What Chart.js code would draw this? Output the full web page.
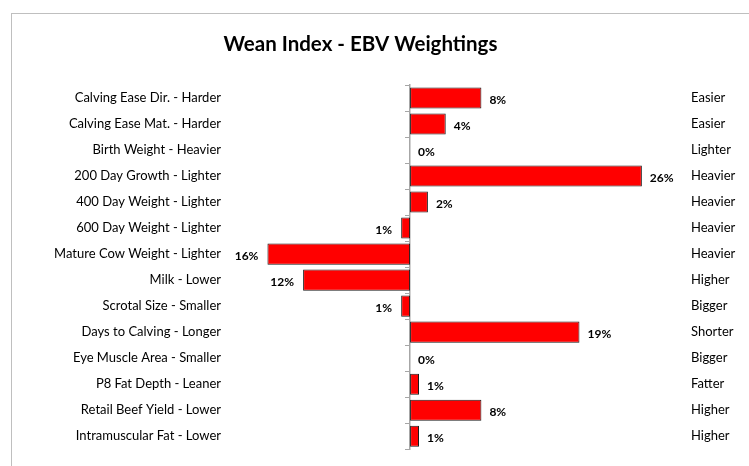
<!DOCTYPE html>
<html>
<head>
<meta charset="utf-8">
<title>Wean Index - EBV Weightings</title>
<script src="https://cdn.jsdelivr.net/npm/chart.js@4.4.1/dist/chart.umd.min.js"></script>
<style>
  body { margin: 0; background: #fff; }
  #wrap { position: relative; width: 749px; height: 466px; overflow: hidden; }
  #frame { position: absolute; left: 11px; top: 13px; width: 800px; height: 500px;
           border-left: 1.5px solid #bfbfbf; border-top: 1.5px solid #bfbfbf; }
  canvas { position: absolute; left: 0; top: 0; }
</style>
</head>
<body>
<div id="wrap"><div id="frame"></div><canvas id="grafico" width="749" height="466"></canvas></div>
<script>
// traits (left side = direction of a lower score), right side = favourable direction
var traits = [
  'Calving Ease Dir. - Harder',
  'Calving Ease Mat. - Harder',
  'Birth Weight - Heavier',
  '200 Day Growth - Lighter',
  '400 Day Weight - Lighter',
  '600 Day Weight - Lighter',
  'Mature Cow Weight - Lighter',
  'Milk - Lower',
  'Scrotal Size - Smaller',
  'Days to Calving - Longer',
  'Eye Muscle Area - Smaller',
  'P8 Fat Depth - Leaner',
  'Retail Beef Yield - Lower',
  'Intramuscular Fat - Lower'
];
var opposite = [
  'Easier', 'Easier', 'Lighter', 'Heavier', 'Heavier', 'Heavier', 'Heavier',
  'Higher', 'Bigger', 'Shorter', 'Bigger', 'Fatter', 'Higher', 'Higher'
];
// weighting in %, negative = bar to the left
var weights = [8, 4, 0, 26, 2, -1, -16, -12, -1, 19, 0, 1, 8, 1];

var fuente = 'Lato, "Open Sans", sans-serif';

// percent labels at the end of each bar
var valueLabels = {
  id: 'valueLabels',
  afterDatasetsDraw: function (chart) {
    var ctx = chart.ctx;
    var meta = chart.getDatasetMeta(0);
    ctx.save();
    ctx.font = 'bold 12px ' + fuente;
    ctx.fillStyle = '#000';
    ctx.textBaseline = 'middle';
    meta.data.forEach(function (bar, i) {
      var v = weights[i];
      var txt = Math.abs(v) + '%';
      if (v < 0) {
        ctx.textAlign = 'right';
        ctx.fillText(txt, bar.x - 9, bar.y + 2);
      } else {
        ctx.textAlign = 'left';
        ctx.fillText(txt, bar.x + 8, bar.y + 2);
      }
    });
    ctx.restore();
  }
};

var ctx = document.getElementById('grafico');

new Chart(ctx, {
  type: 'bar',
  plugins: [valueLabels],
  data: {
    labels: traits,
    datasets: [{
      data: weights,
      xAxisID: 'x',
      yAxisID: 'y',
      backgroundColor: '#ff0000',
      borderColor: '#1a1a1a',
      borderWidth: 1,
      borderSkipped: false,
      barPercentage: 0.81,
      categoryPercentage: 1
    }]
  },
  options: {
    indexAxis: 'y',
    responsive: false,
    animation: false,
    layout: { padding: { left: 11, right: 39, top: 0, bottom: 10 } },
    plugins: {
      legend: { display: false },
      tooltip: { enabled: false },
      title: {
        display: true,
        text: 'Wean Index - EBV Weightings',
        color: '#000',
        font: { family: fuente, size: 20.5, weight: 'bold' },
        padding: { top: 31.7, bottom: 28.7 }
      }
    },
    scales: {
      x: { display: false, min: -20.2, max: 30.95 },
      y: {
        position: 'left',
        grid: { display: false, drawTicks: false },
        border: { display: false },
        ticks: { color: '#000', font: { family: fuente, size: 13 }, padding: 9 },
        afterFit: function (s) { s.width = 219; }
      },
      yR: {
        type: 'category',
        axis: 'y',
        labels: opposite,
        position: 'right',
        offset: true,
        grid: { display: false, drawTicks: false },
        border: { display: false },
        ticks: { color: '#000', font: { family: fuente, size: 13 }, padding: 5 },
        afterFit: function (s) {
          s.width = 24;
          s._computeLabelArea = function () {}; // let the labels run past the padding
        }
      },
      yC: {
        type: 'category',
        axis: 'y',
        position: { x: 0 },
        offset: true,
        z: 1,
        ticks: { display: false },
        grid: { offset: true, drawOnChartArea: false, tickLength: 4, color: '#a6a6a6', lineWidth: 1 },
        border: { color: '#a6a6a6', width: 1.5 }
      }
    }
  }
});
</script>
</body>
</html>
